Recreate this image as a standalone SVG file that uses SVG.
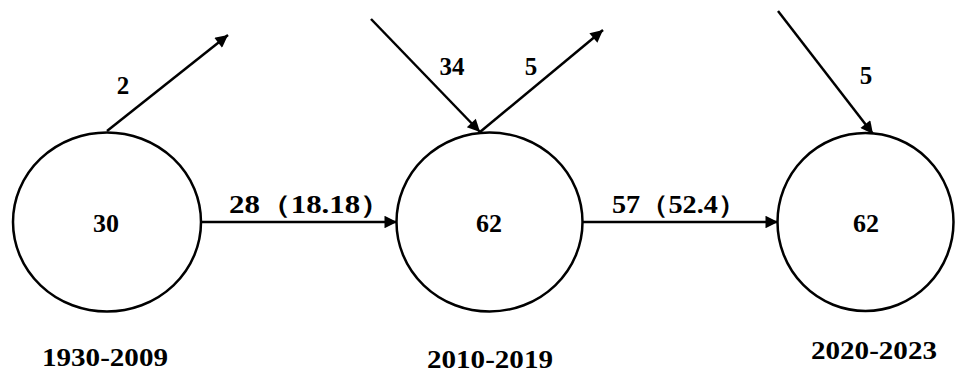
<svg xmlns="http://www.w3.org/2000/svg" width="956" height="383" viewBox="0 0 956 383">
<style>
.n{fill:#fff;stroke:#000;stroke-width:2.5}
.e{stroke:#000;stroke-width:2.5;fill:none;marker-end:url(#ah)}
text{font-family:'Liberation Serif','Times New Roman','DejaVu Serif',serif;font-weight:700;fill:#000;text-anchor:middle}
.p{font-family:'Noto Sans CJK SC',sans-serif;font-weight:400}
.v{font-size:26px}
.l{font-size:25px}
.y{font-size:26px}
</style>
<defs>
<marker id="ah" viewBox="0 0 10 10" refX="10" refY="5" markerWidth="6" markerHeight="5" markerUnits="strokeWidth" orient="auto">
<path d="M0,0 L10,5 L0,10 z" fill="#000"/>
</marker>
</defs>
<rect width="956" height="383" fill="#fff"/>
<g id="connectors">
<line class="e" x1="107" y1="131" x2="228" y2="35"/>
<line class="e" x1="201" y1="222" x2="397" y2="222"/>
<line class="e" x1="371" y1="19" x2="480" y2="132"/>
<line class="e" x1="480" y1="132" x2="603" y2="30"/>
<line class="e" x1="583" y1="222" x2="778" y2="222"/>
<line class="e" x1="778" y1="11" x2="873" y2="134"/>
<text class="l" x="123" y="94">2</text>
<text class="l" x="310" y="213" textLength="162" lengthAdjust="spacingAndGlyphs">28（18.18）</text>
<text class="l" x="452" y="75">34</text>
<text class="l" x="531" y="75">5</text>
<text class="l" x="679" y="213" textLength="134" lengthAdjust="spacingAndGlyphs">57（52.4）</text>
<text class="l" x="866" y="84">5</text>
</g>
<g id="node1">
<ellipse class="n" cx="107" cy="222" rx="94" ry="89.5"/>
<text class="v" x="106" y="232">30</text>
<text class="y" x="105" y="366" textLength="126" lengthAdjust="spacingAndGlyphs">1930-2009</text>
</g>
<g id="node2">
<ellipse class="n" cx="489.5" cy="222" rx="93" ry="89.5"/>
<text class="v" x="489" y="232">62</text>
<text class="y" x="490" y="368" textLength="126" lengthAdjust="spacingAndGlyphs">2010-2019</text>
</g>
<g id="node3">
<ellipse class="n" cx="865.5" cy="222" rx="88" ry="89"/>
<text class="v" x="866" y="232">62</text>
<text class="y" x="874" y="359" textLength="126" lengthAdjust="spacingAndGlyphs">2020-2023</text>
</g>
</svg>
